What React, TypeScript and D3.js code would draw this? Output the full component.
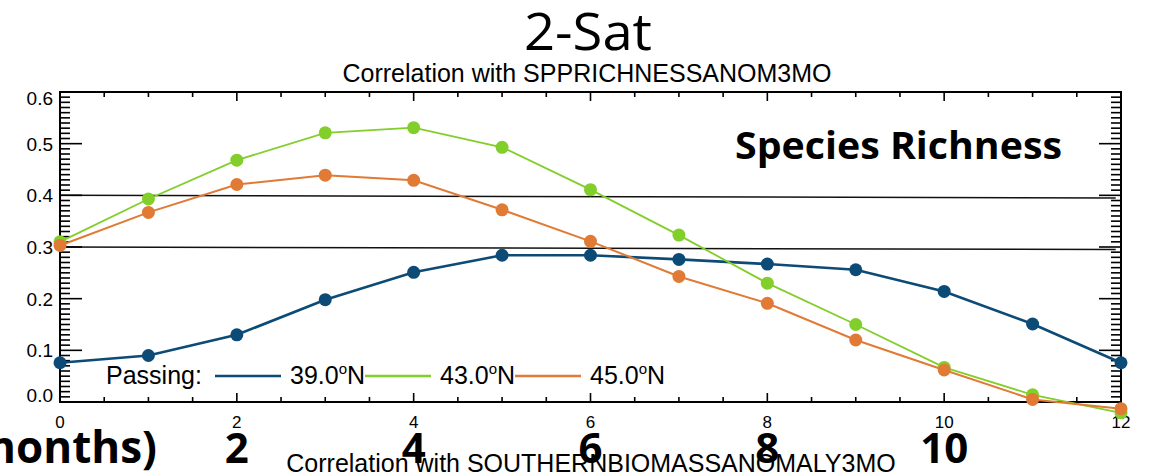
import React from "react";
import * as d3 from "d3";

const lags = [0, 1, 2, 3, 4, 5, 6, 7, 8, 9, 10, 11, 12];
const s39 = [0.076, 0.09, 0.13, 0.198, 0.251, 0.284, 0.284, 0.276, 0.267, 0.256, 0.214, 0.151, 0.076];
const s43 = [0.31, 0.393, 0.468, 0.521, 0.531, 0.493, 0.411, 0.323, 0.23, 0.15, 0.067, 0.014, -0.021];
const s45 = [0.303, 0.367, 0.421, 0.439, 0.429, 0.372, 0.311, 0.243, 0.191, 0.12, 0.062, 0.005, -0.013];
const seriesNames = ["39.0", "43.0", "45.0"];
const seriesColors = ["#0c4b76", "#82ce2a", "#e07a35"];
const seriesWidths = [2.6, 1.8, 2];
const sigStart = [0.4, 0.3];
const sigEnd = [0.395, 0.295];
const yTicks = [0, 0.1, 0.2, 0.3, 0.4, 0.5, 0.6];
const xTicks = [0, 2, 4, 6, 8, 10, 12];
const otherTicks = ["2", "4", "6", "8", "10"];
const otherTickVals = [2, 4, 6, 8, 10];

const W = 1153;
const H = 476;
const L = 60, R = 1121, T = 92, B = 402;
const HELV = "'Liberation Sans', Arial, Helvetica, sans-serif";
const CAL = "'Open Sans', 'Noto Sans', sans-serif";

export default function App() {
  const x = d3.scaleLinear().domain([0, 12]).range([L, R]);
  const y = d3.scaleLinear().domain([0, 0.6]).range([B, T]);
  const data = [s39, s43, s45];
  const line = d3
    .line<number>()
    .x((_, i) => x(lags[i]))
    .y((d) => y(d));

  const yMinor = d3.range(0, 61).map((i) => i / 100);
  const xMinor = d3.range(0, 25).map((i) => i / 2);

  const legendItems = [
    { lineX: 215, textX: 290 },
    { lineX: 365, textX: 440 },
    { lineX: 515, textX: 590 },
  ];

  return (
    <svg
      width={W}
      height={H}
      style={{ position: "absolute", left: 0, top: 0, background: "#fff" }}
    >
      <rect x={0} y={0} width={W} height={H} fill="#fff" />
      {/* title */}
      <text x={588} y={50} textAnchor="middle" fontFamily={CAL} fontSize={52} textLength={128} lengthAdjust="spacingAndGlyphs" fill="#000">
        2-Sat
      </text>
      <text x={587} y={81.5} textAnchor="middle" fontFamily={HELV} fontSize={25} fill="#000">
        Correlation with SPPRICHNESSANOM3MO
      </text>

      {/* significance lines */}
      {sigStart.map((v, i) => (
        <line key={"sig" + i} x1={x(0)} y1={y(v)} x2={x(11.94)} y2={y(sigEnd[i])} stroke="#111" strokeWidth={1.5} />
      ))}

      {/* axes frame */}
      <rect x={L} y={T} width={R - L} height={B - T} fill="none" stroke="#000" strokeWidth={2} />
      {/* y ticks left and right */}
      {yMinor.map((v, i) => {
        const major = i % 10 === 0;
        const len = major ? 22 : 10;
        return (
          <g key={"yt" + i}>
            <line x1={L} x2={L + len} y1={y(v)} y2={y(v)} stroke="#000" strokeWidth={1.6} />
            <line x1={R} x2={R - len} y1={y(v)} y2={y(v)} stroke="#000" strokeWidth={1.6} />
          </g>
        );
      })}
      {/* x ticks top and bottom */}
      {xMinor.map((v, i) => {
        const major = i % 4 === 0;
        const len = major ? 9 : 5;
        return (
          <g key={"xt" + i}>
            <line x1={x(v)} x2={x(v)} y1={B} y2={B - len} stroke="#000" strokeWidth={1.6} />
            <line x1={x(v)} x2={x(v)} y1={T} y2={T + len} stroke="#000" strokeWidth={1.6} />
          </g>
        );
      })}
      {/* y labels */}
      {yTicks.map((v) => {
        const cy = Math.min(Math.max(y(v), T + 6), B - 7);
        return (
          <text key={"yl" + v} x={53} y={cy + 7} textAnchor="end" fontFamily={HELV} fontSize={19} fill="#000">
            {v.toFixed(1)}
          </text>
        );
      })}
      {/* x labels */}
      {xTicks.map((v) => (
        <text key={"xl" + v} x={x(v)} y={428} textAnchor="middle" fontFamily={HELV} fontSize={17} fill="#000">
          {String(v)}
        </text>
      ))}

      {/* Species Richness */}
      <text x={735} y={159} fontFamily={CAL} fontWeight={700} fontSize={37} textLength={327} lengthAdjust="spacingAndGlyphs" fill="#000">
        Species Richness
      </text>

      {/* legend */}
      <text x={106} y={384} fontFamily={HELV} fontSize={25} fill="#000">
        Passing:
      </text>
      {legendItems.map((it, i) => (
        <g key={"lg" + i}>
          <line x1={it.lineX} x2={it.lineX + 66} y1={376} y2={376} stroke={seriesColors[i]} strokeWidth={2.6} />
          <text x={it.textX} y={384} fontFamily={HELV} fontSize={25} fill="#000">
            {seriesNames[i]}
            <tspan fontSize={15} dy={-10}>o</tspan>
            <tspan dy={10}>N</tspan>
          </text>
        </g>
      ))}

      {/* series */}
      {data.map((s, i) => (
        <g key={"s" + i}>
          <path d={line(s) || ""} fill="none" stroke={seriesColors[i]} strokeWidth={seriesWidths[i]} />
          {s.map((v, j) => (
            <circle key={j} cx={x(lags[j])} cy={y(v)} r={6.5} fill={seriesColors[i]} />
          ))}
        </g>
      ))}

      {/* overlapping lower chart text */}
      <text x={157} y={463} textAnchor="end" fontFamily={CAL} fontWeight={700} fontSize={44} fill="#000">
        (months)
      </text>
      {otherTicks.map((t, i) => (
        <text key={"ot" + t} x={x(otherTickVals[i])} y={463} textAnchor="middle" fontFamily={CAL} fontWeight={700} fontSize={42} fill="#000">
          {t}
        </text>
      ))}
      <text x={591} y={472} textAnchor="middle" fontFamily={HELV} fontSize={25} fill="#000">
        Correlation with SOUTHERNBIOMASSANOMALY3MO
      </text>
    </svg>
  );
}
